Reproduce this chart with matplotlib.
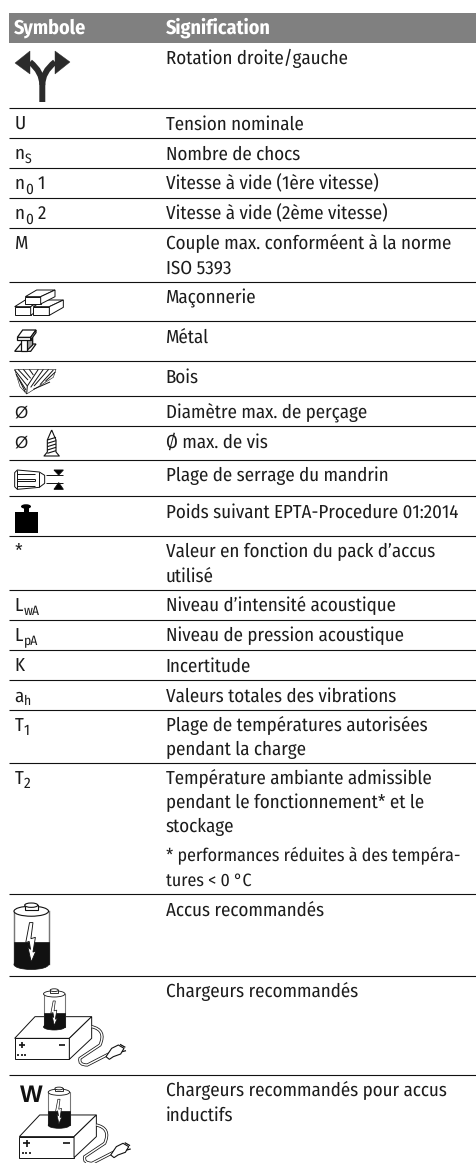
import matplotlib
matplotlib.use('Agg')
import matplotlib.pyplot as plt
from matplotlib.patches import Polygon, Rectangle, Ellipse, PathPatch
from matplotlib.path import Path

W, H = 476, 1163

# Table contents
header = ["Symbole", "Signification"]
sym_base = ["", "U", "n", "n", "n", "M", "", "", "", "Ø", "Ø", "", "", "*",
            "L", "L", "K", "a", "T", "T", "", "", ""]
sym_sub = ["", "", "S", "0", "0", "", "", "", "", "", "", "", "", "",
           "wA", "pA", "", "h", "1", "2", "", "", ""]
sym_end = ["", "", "", "1", "2", "", "", "", "", "", "", "", "", "",
           "", "", "", "", "", "", "", "", ""]
meanings = [
    ["Rotation droite/gauche"],
    ["Tension nominale"],
    ["Nombre de chocs"],
    ["Vitesse à vide (1ère vitesse)"],
    ["Vitesse à vide (2ème vitesse)"],
    ["Couple max. conforméent à la norme", "ISO 5393"],
    ["Maçonnerie"],
    ["Métal"],
    ["Bois"],
    ["Diamètre max. de perçage"],
    ["Ø max. de vis"],
    ["Plage de serrage du mandrin"],
    ["Poids suivant EPTA-Procedure 01:2014"],
    ["Valeur en fonction du pack d’accus", "utilisé"],
    ["Niveau d’intensité acoustique"],
    ["Niveau de pression acoustique"],
    ["Incertitude"],
    ["Valeurs totales des vibrations"],
    ["Plage de températures autorisées", "pendant la charge"],
    ["Température ambiante admissible", "pendant le fonctionnement* et le", "stockage"],
    ["Accus recommandés"],
    ["Chargeurs recommandés"],
    ["Chargeurs recommandés pour accus", "inductifs"],
]
note_lines = ["* performances réduites à des tempéra-", "tures < 0 °C"]
row_lines = [108, 138, 168, 198, 228, 282, 321, 361, 396, 426, 460, 496, 536, 590,
             620, 650, 680, 710, 763, 894, 976, 1075]
row_tops = [43] + row_lines

plt.rcParams['font.family'] = ['Fira Sans Condensed', 'Roboto Condensed', 'Liberation Sans']
plt.rcParams['text.hinting'] = 'no_hinting'
plt.rcParams['text.hinting_factor'] = 1

fig = plt.figure(figsize=(W / 100, H / 100), dpi=100)
ax = fig.add_axes([0, 0, 1, 1])
ax.set_xlim(0, W)
ax.set_ylim(H, 0)
ax.axis('off')

FS = 13.6
TXT = '#1c1c1c'
INK = '#111111'
LW = 0.7


def z(pts, ox=0, oy=0):
    return [(ox + x / 3, oy + y / 3) for x, y in pts]


def poly(pts, fc='white', ec=INK, lw=LW, zo=3):
    ax.add_patch(Polygon(pts, closed=True, fc=fc, ec=ec, lw=lw, zorder=zo))


def line(pts, color=INK, lw=LW, zo=3):
    ax.plot([p[0] for p in pts], [p[1] for p in pts], color=color, lw=lw, zorder=zo,
            solid_capstyle='butt')


def curve(verts, codes, lw, color=INK, zo=3):
    ax.add_patch(PathPatch(Path(verts, codes), fc='none', ec=color, lw=lw, zorder=zo,
                           capstyle='butt'))


def arrows():
    c = '#2b2b2b'
    curve([(42.3, 102), (42.3, 85), (42.3, 72), (30, 62)],
          [Path.MOVETO, Path.LINETO, Path.CURVE3, Path.CURVE3], 4.3, c)
    curve([(42.3, 85), (42.3, 72), (55, 62)], [Path.MOVETO, Path.CURVE3, Path.CURVE3], 4.3, c)
    poly([(15, 63), (30, 51), (30, 74)], fc=c, ec=c, lw=0.3)
    poly([(70, 62), (55, 51), (55, 74)], fc=c, ec=c, lw=0.3)


def bricks():
    o = (0, 280)
    poly(z([(44, 80), (76, 60), (124, 60), (92, 80)], *o))
    poly(z([(44, 80), (92, 80), (92, 106), (44, 106)], *o))
    poly(z([(92, 80), (124, 60), (124, 84), (92, 106)], *o))
    poly(z([(100, 80), (148, 80), (148, 106), (100, 106)], *o))
    poly(z([(100, 80), (132, 60), (190, 60), (148, 80)], *o))
    poly(z([(148, 80), (190, 60), (190, 82), (148, 106)], *o))
    poly(z([(76, 50), (110, 30), (165, 30), (122, 50)], *o))
    poly(z([(76, 50), (122, 50), (122, 72), (76, 72)], *o))
    poly(z([(122, 50), (165, 30), (165, 50), (122, 72)], *o))


def beam():
    o = (0, 280)
    poly(z([(44, 214), (62, 192), (108, 192), (92, 214)], *o), lw=0.9)
    poly(z([(80, 172), (98, 172), (98, 195), (80, 212)], *o), fc='#a0a0a0', lw=0.9)
    poly(z([(64, 172), (80, 172), (80, 214), (64, 214)], *o), lw=0.9)
    poly(z([(52, 180), (92, 180), (92, 172), (52, 172)], *o), lw=0.9)
    poly(z([(52, 172), (92, 172), (108, 150), (68, 150)], *o), lw=0.9)
    poly(z([(92, 180), (108, 158), (108, 150), (92, 172)], *o), lw=0.9)


def wood():
    o = (0, 280)
    poly(z([(44, 268), (168, 268), (160, 292), (115, 320), (80, 342), (60, 320)], *o), lw=0.4)
    for a, b in [((80, 342), (82, 318)), ((82, 318), (115, 268)), ((82, 318), (44, 270)),
                 ((54, 268), (84, 300)), ((70, 268), (92, 295)), ((88, 268), (100, 285)),
                 ((48, 282), (78, 330)), ((56, 296), (76, 336)),
                 ((92, 322), (130, 268)), ((102, 318), (146, 268)), ((120, 314), (160, 270)),
                 ((136, 304), (166, 276)), ((100, 328), (150, 306))]:
        line(z([a, b], *o), lw=0.7)


def screw():
    o = (0, 420)
    line(z([(155, 30), (142, 60), (142, 96), (132, 108), (178, 108), (168, 96), (168, 60), (155, 30)], *o), lw=0.8)
    for y in [52, 62, 72, 82, 92]:
        line(z([(142, y + 8), (168, y)], *o), lw=0.8)


def chuck():
    o = (0, 420)
    poly(z([(44, 158), (52, 150), (118, 156), (134, 166), (134, 190), (118, 202), (52, 208), (44, 200)], *o))
    line(z([(52, 150), (52, 208)], *o))
    line(z([(118, 156), (118, 202)], *o))
    for y in [162, 176, 184, 198]:
        line(z([(52, y), (106, y)], *o))
    line(z([(106, 176), (106, 184)], *o))
    line(z([(138, 165), (190, 165)], *o))
    line(z([(138, 188), (190, 188)], *o))
    poly(z([(162, 150), (190, 150), (176, 165)], *o), fc='black')
    poly(z([(162, 208), (190, 208), (176, 188)], *o), fc='black')


def weight():
    ax.add_patch(Rectangle((14.5, 512), 23, 21, fc='black', ec='none', zorder=3))
    ax.add_patch(Rectangle((24, 507), 4.5, 6, fc='black', ec='none', zorder=3))
    ax.add_patch(Ellipse((26, 506.5), 10, 4.5, fc='black', ec='none', zorder=3))


def battery(x, y, w, h, lw=0.8):
    # outline, dark lower half and the bolt
    rx = w / 2
    cx = x + rx
    ry = 0.075 * h
    top = y + 0.13 * h
    fill = y + 0.585 * h
    ax.add_patch(Rectangle((x, top), w, h - top + y - ry, fc='white', ec='#777777', lw=lw * 1.3, zorder=3))
    ax.add_patch(Rectangle((x, fill), w, y + h - ry - fill, fc='#111111', ec='#111111', lw=0.5, zorder=4))
    ax.add_patch(Ellipse((cx, y + h - ry), w, 2 * ry, fc='#111111', ec='#111111', lw=0.5, zorder=4))
    ax.add_patch(Ellipse((cx, top), w, 2 * ry, fc='white', ec=INK, lw=lw, zorder=5))
    ax.add_patch(Rectangle((cx - 0.19 * w, y + 0.04 * h), 0.38 * w, 0.07 * h, fc='white', ec=INK, lw=lw, zorder=5))
    ax.add_patch(Ellipse((cx, y + 0.04 * h), 0.38 * w, 0.065 * h, fc='white', ec=INK, lw=lw, zorder=6))
    bolt = [(-0.05, 0.30), (0.05, 0.30), (-0.01, 0.54), (0.12, 0.52), (0.05, 0.74), (0.14, 0.72),
            (0.0, 0.89), (-0.10, 0.66), (-0.02, 0.70), (-0.06, 0.58), (-0.16, 0.60)]
    poly([(cx + a * w, y + b * h) for a, b in bolt], fc='white', ec=INK, lw=lw * 0.8, zo=7)


def charger(dx, dy):
    o = (dx, dy)
    poly(z([(44, 715), (105, 650), (275, 650), (208, 715)], *o))
    poly(z([(44, 715), (208, 715), (208, 778), (44, 778)], *o))
    poly(z([(208, 715), (275, 650), (275, 715), (208, 778)], *o))
    line(z([(56, 735), (76, 735)], *o), lw=1.2)
    line(z([(66, 726), (66, 745)], *o), lw=1.2)
    line(z([(176, 735), (196, 735)], *o), lw=1.2)
    line(z([(52, 764), (58, 764)], *o), lw=1.2)
    line(z([(62, 764), (68, 764)], *o), lw=1.2)
    line(z([(72, 764), (78, 764)], *o), lw=1.2)
    # cable is a doubled outline
    cable = z([(275, 680), (320, 690), (300, 735), (240, 775), (235, 795), (262, 795), (330, 760)], *o)
    codes = [Path.MOVETO, Path.CURVE3, Path.CURVE3, Path.LINETO, Path.CURVE3, Path.CURVE3, Path.LINETO]
    curve(cable, codes, 2.2, INK)
    curve(cable, codes, 1.1, 'white', zo=3.1)
    poly(z([(318, 770), (335, 745), (355, 735), (372, 745), (362, 762), (340, 770), (328, 778)], *o), lw=0.8, zo=3.2)
    line(z([(360, 733), (376, 742)], *o), lw=0.9, zo=3.2)
    line(z([(366, 755), (378, 752)], *o), lw=0.9, zo=3.2)
    battery(dx + 43.5, dy + 188.5, 21.5, 41.5, lw=0.6)


# header band
ax.add_patch(Rectangle((9, 13), 467, 30, color='#808080', lw=0))
ax.text(14, 33.5, header[0], color='white', fontsize=14.4, fontweight='bold', va='baseline')
ax.text(165.5, 33.5, header[1], color='white', fontsize=14.4, fontweight='bold', va='baseline')

for y in row_lines:
    ax.plot([9, W], [y, y], color='#111111', lw=0.8, solid_capstyle='butt', zorder=2)

fig.canvas.draw()
rend = fig.canvas.get_renderer()

for i, top in enumerate(row_tops):
    base = top + 21.3
    x = 14.5
    if sym_base[i] == "Ø":
        ax.text(x, base, "Ø", fontsize=12.5, color=TXT, va='baseline', family='Liberation Sans')
    elif sym_base[i]:
        t = ax.text(x, base, sym_base[i], fontsize=FS, color=TXT, va='baseline')
        x += t.get_window_extent(rend).width + 0.6
    if sym_sub[i]:
        size = FS * 0.8 if sym_sub[i].isdigit() else FS * 0.72
        t = ax.text(x, base + 4, sym_sub[i], fontsize=size, color=TXT, va='baseline')
        x += t.get_window_extent(rend).width + 5
    if sym_end[i]:
        ax.text(x, base, sym_end[i], fontsize=FS, color=TXT, va='baseline')
    for j, s in enumerate(meanings[i]):
        ax.text(165.5, base + 24 * j, s, fontsize=FS, color=TXT, va='baseline')

for j, s in enumerate(note_lines):
    ax.text(165.5, 861.5 + 24 * j, s, fontsize=12.9, color=TXT, va='baseline')

arrows()
bricks()
beam()
wood()
screw()
chuck()
weight()
battery(14, 902.5, 34.5, 67)
charger(0, 800)
charger(4.7, 898.3)
ax.text(19.5, 1102.5, "W", fontsize=17, fontweight='bold', color='#111111', va='baseline',
        family='Liberation Sans')

fig.savefig('out.png', dpi=100)
